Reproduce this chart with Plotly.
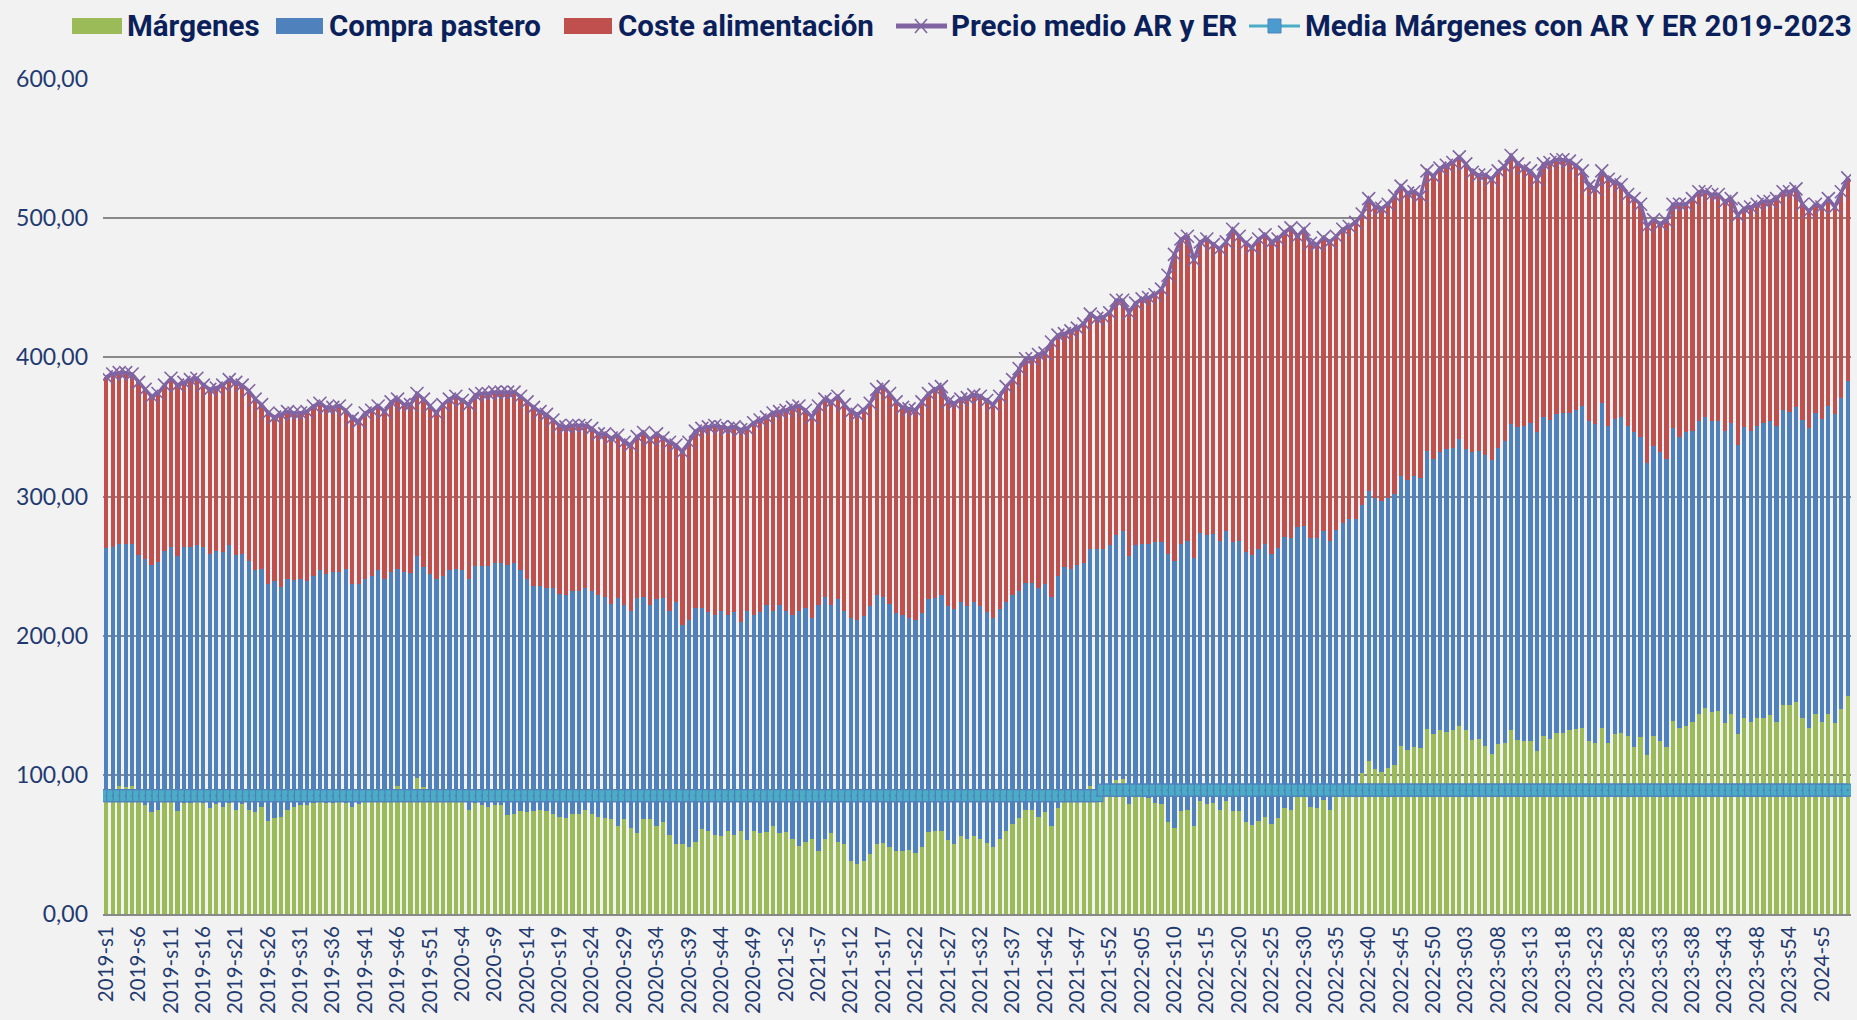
import plotly.graph_objects as go

# ---------------- categories (weekly) ----------------
semanas_2019 = [f"2019-s{i}" for i in range(1, 53)]
semanas_2020 = [f"2020-s{i}" for i in range(1, 53)]
semanas_2021 = [f"2021-s{i}" for i in range(1, 53)]
semanas_2022 = [f"2022-s{i:02d}" for i in range(1, 53)]
semanas_2023 = [f"2023-s{i:02d}" for i in range(1, 53)] + ["2023-s54"]
semanas_2024 = [f"2024-s{i}" for i in range(1, 10)]
categorias = semanas_2019 + semanas_2020 + semanas_2021 + semanas_2022 + semanas_2023 + semanas_2024

# ---------------- series values ----------------
margenes = [
    88, 89, 92, 91, 92, 82, 78, 73, 75, 81,
    82, 74, 80, 80, 81, 80, 76, 79, 77, 80,
    75, 79, 75, 73, 77, 67, 69, 70, 75, 77,
    78, 78, 80, 81, 80, 80, 81, 80, 77, 79,
    82, 83, 84, 82, 85, 92, 86, 85, 98, 91,
    84, 82, 83, 85, 86, 84, 75, 80, 78, 77,
    78, 78, 71, 72, 74, 73, 74, 75, 74, 72,
    70, 69, 72, 72, 75, 72, 70, 69, 68, 63,
    68, 62, 58, 68, 68, 63, 66, 57, 50, 50,
    48, 52, 61, 60, 57, 56, 60, 57, 60, 53,
    60, 58, 59, 63, 58, 59, 54, 49, 52, 54,
    45, 54, 58, 52, 50, 38, 36, 38, 43, 50,
    51, 48, 45, 45, 46, 44, 48, 59, 60, 60,
    53, 50, 56, 54, 56, 54, 51, 48, 54, 60,
    65, 69, 75, 75, 70, 73, 63, 76, 82, 84,
    85, 86, 92, 87, 88, 86, 96, 97, 79, 86,
    85, 83, 80, 79, 66, 62, 74, 75, 63, 81,
    79, 80, 75, 81, 74, 74, 66, 64, 67, 70,
    65, 69, 76, 75, 84, 85, 77, 76, 82, 75,
    85, 88, 88, 92, 101, 110, 104, 102, 105, 107,
    121, 118, 120, 119, 133, 129, 132, 131, 132, 135,
    132, 125, 126, 121, 115, 122, 123, 132, 125, 124,
    124, 117, 128, 126, 130, 130, 132, 133, 134, 124,
    123, 134, 123, 129, 130, 128, 120, 127, 114, 128,
    124, 120, 139, 134, 135, 138, 144, 148, 145, 146,
    137, 144, 129, 141, 138, 141, 141, 143, 138, 150,
    150, 152, 141, 134, 144, 138, 144, 137, 147, 157,
]

compra_pastero = [
    175, 175, 174, 175, 174, 176, 177, 178, 178, 180,
    182, 183, 184, 184, 184, 184, 183, 182, 183, 185,
    183, 180, 179, 174, 171, 170, 170, 165, 166, 163,
    163, 161, 163, 166, 164, 166, 165, 168, 160, 158,
    159, 160, 163, 159, 161, 156, 160, 160, 159, 158,
    160, 159, 160, 162, 162, 163, 166, 170, 172, 173,
    174, 174, 180, 180, 173, 168, 162, 161, 160, 162,
    160, 160, 160, 160, 159, 160, 159, 159, 155, 164,
    154, 156, 169, 160, 154, 163, 161, 161, 174, 158,
    163, 168, 159, 157, 158, 162, 155, 160, 150, 165,
    155, 159, 163, 155, 164, 159, 161, 169, 168, 159,
    177, 174, 164, 174, 168, 175, 175, 176, 178, 179,
    177, 175, 171, 170, 167, 167, 168, 167, 167, 169,
    168, 169, 168, 167, 168, 167, 166, 165, 165, 164,
    164, 163, 163, 163, 164, 164, 165, 167, 167, 164,
    166, 166, 170, 175, 174, 179, 176, 178, 178, 179,
    181, 183, 187, 188, 193, 192, 192, 193, 193, 193,
    193, 193, 193, 194, 193, 194, 194, 194, 195, 196,
    194, 194, 195, 195, 194, 194, 193, 194, 193, 193,
    191, 193, 196, 192, 193, 194, 195, 195, 194, 195,
    194, 194, 195, 194, 200, 198, 200, 203, 203, 206,
    202, 207, 207, 209, 211, 213, 217, 220, 225, 227,
    229, 229, 229, 229, 229, 230, 228, 229, 231, 230,
    229, 233, 228, 227, 227, 223, 226, 216, 210, 208,
    208, 207, 210, 209, 211, 209, 210, 209, 209, 208,
    210, 209, 208, 209, 209, 210, 212, 211, 213, 212,
    211, 212, 214, 215, 216, 218, 221, 222, 224, 226,
]

coste_alimentacion = [
    123, 124, 123, 123, 122, 124, 122, 121, 121, 119,
    121, 123, 118, 120, 120, 116, 118, 117, 120, 119,
    124, 121, 122, 123, 118, 123, 118, 124, 120, 120,
    119, 122, 122, 120, 120, 118, 119, 114, 119, 117,
    119, 119, 118, 120, 122, 122, 120, 121, 117, 121,
    121, 119, 123, 123, 124, 122, 125, 123, 124, 124,
    123, 123, 124, 123, 125, 127, 128, 125, 125, 121,
    121, 121, 119, 119, 117, 117, 116, 117, 119, 117,
    117, 119, 116, 118, 119, 119, 115, 121, 113, 124,
    128, 127, 129, 133, 136, 132, 134, 133, 138, 131,
    138, 138, 135, 142, 139, 144, 149, 147, 142, 144,
    143, 142, 146, 146, 148, 148, 148, 148, 146, 148,
    151, 151, 152, 149, 150, 151, 152, 148, 150, 150,
    147, 148, 146, 150, 149, 151, 152, 153, 153, 155,
    155, 160, 161, 161, 168, 166, 183, 173, 168, 171,
    170, 172, 169, 166, 167, 167, 169, 166, 175, 174,
    176, 177, 178, 182, 200, 220, 219, 219, 214, 209,
    213, 208, 210, 208, 225, 219, 222, 221, 223, 222,
    224, 222, 219, 223, 209, 213, 212, 211, 211, 215,
    211, 211, 210, 213, 209, 210, 209, 210, 211, 214,
    208, 206, 204, 203, 201, 203, 204, 204, 205, 203,
    205, 201, 198, 201, 202, 199, 197, 193, 189, 185,
    181, 182, 182, 185, 183, 182, 181, 176, 169, 169,
    169, 167, 177, 170, 167, 166, 168, 167, 170, 163,
    164, 171, 161, 167, 164, 167, 165, 162, 163, 163,
    165, 161, 165, 157, 161, 159, 159, 158, 163, 157,
    158, 157, 155, 156, 150, 152, 149, 149, 148, 146,
]

precio_medio = [
    386, 388, 389, 389, 388, 382, 377, 372, 374, 380,
    385, 380, 382, 384, 385, 380, 377, 378, 380, 384,
    382, 380, 376, 370, 366, 360, 357, 359, 361, 360,
    360, 361, 365, 367, 364, 364, 365, 362, 356, 354,
    360, 362, 365, 361, 368, 370, 366, 366, 374, 370,
    365, 360, 366, 370, 372, 369, 366, 373, 374, 374,
    375, 375, 375, 375, 372, 368, 364, 361, 359, 355,
    351, 350, 351, 351, 351, 349, 345, 345, 342, 344,
    339, 337, 343, 346, 341, 345, 342, 339, 337, 332,
    339, 347, 349, 350, 351, 350, 349, 350, 348, 349,
    353, 355, 357, 360, 361, 362, 364, 365, 362, 357,
    365, 370, 368, 372, 366, 361, 359, 362, 367, 377,
    379, 374, 368, 364, 363, 362, 368, 374, 377, 379,
    368, 367, 370, 371, 373, 372, 369, 366, 372, 379,
    384, 392, 399, 399, 402, 403, 411, 416, 417, 419,
    421, 424, 431, 428, 429, 432, 441, 441, 432, 439,
    442, 443, 445, 449, 459, 474, 485, 487, 470, 483,
    485, 481, 478, 483, 492, 487, 482, 479, 485, 488,
    483, 485, 490, 493, 487, 492, 482, 481, 486, 483,
    487, 492, 494, 497, 503, 514, 508, 507, 510, 516,
    523, 518, 519, 516, 534, 530, 536, 538, 540, 544,
    539, 533, 531, 531, 528, 534, 537, 545, 539, 536,
    534, 528, 539, 540, 542, 542, 541, 538, 534, 523,
    521, 534, 528, 526, 524, 517, 514, 510, 494, 499,
    496, 498, 510, 510, 510, 514, 519, 519, 517, 517,
    512, 514, 502, 507, 508, 510, 512, 512, 514, 519,
    519, 521, 510, 505, 510, 508, 514, 508, 519, 529,
]

media_margenes = [85.0] * 154 + [89.0] * 116

etiquetas_eje_x = categorias[::5]

# ---------------- colours ----------------
VERDE = "#9BBB59"
AZUL = "#4F81BD"
ROJO = "#C0504D"
MORADO = "#8064A2"
TURQUESA = "#4BACC6"
FONDO = "#F2F2F2"
REJILLA = "#898989"
NAVY = "#0B1F5B"
TICK = "#1F3A70"

fig = go.Figure()
fig.add_trace(go.Bar(x=categorias, y=margenes, name="Márgenes",
                     marker=dict(color=VERDE, line=dict(width=0))))
fig.add_trace(go.Bar(x=categorias, y=compra_pastero, name="Compra pastero",
                     marker=dict(color=AZUL, line=dict(width=0))))
fig.add_trace(go.Bar(x=categorias, y=coste_alimentacion, name="Coste alimentación",
                     marker=dict(color=ROJO, line=dict(width=0))))
fig.add_trace(go.Scatter(x=categorias, y=precio_medio, name="Precio medio AR y ER",
                         mode="lines+markers",
                         line=dict(color=MORADO, width=3.5),
                         marker=dict(symbol="x-thin", size=13,
                                     line=dict(color=MORADO, width=1.6))))
fig.add_trace(go.Scatter(x=categorias, y=media_margenes,
                         name="Media Márgenes con AR Y ER 2019-2023",
                         mode="lines+markers",
                         line=dict(color=TURQUESA, width=6),
                         marker=dict(symbol="square-dot", size=12, color=TURQUESA,
                                     line=dict(color="#4F81BD", width=1.2))))

# ---------------- layout ----------------
W, H = 1857, 1020
L, R, T, B = 103, 6, 79, 106
PW, PH = W - L - R, H - T - B


def px_x(px):
    return (px - L) / PW


def px_y(py):
    return (H - B - py) / PH


fig.update_layout(
    width=W, height=H,
    margin=dict(l=L, r=R, t=T, b=B, pad=0, autoexpand=False),
    barmode="stack", bargap=0.34,
    plot_bgcolor=FONDO, paper_bgcolor=FONDO,
    separators=",.",
    showlegend=False,
    font=dict(family="Lato", color=TICK),
)
fig.update_yaxes(range=[0, 600], dtick=100, tickformat=".2f",
                 showgrid=True, gridcolor=REJILLA, gridwidth=2,
                 zeroline=False, showline=False, ticks="",
                 tickfont=dict(family="Lato", size=23, color=TICK),
                 ticklabelstandoff=14, automargin=False)
fig.update_xaxes(type="category", tickmode="array",
                 range=[-0.5, len(categorias) - 0.5], autorange=False,
                 tickvals=etiquetas_eje_x, ticktext=etiquetas_eje_x,
                 tickangle=-90, showgrid=False, showline=True,
                 linecolor=REJILLA, linewidth=2, ticks="",
                 tickfont=dict(family="Lato", size=20.5, color=TICK),
                 ticklabelstandoff=2, automargin=False)

# ---------------- manual legend ----------------
ly = 26
shapes = []
annotations = []
leg_font = dict(family="Roboto", size=29.5, color=NAVY, weight="bold")

rects = [(72, 122, VERDE, 125, "Márgenes"),
         (276, 323, AZUL, 327, "Compra pastero"),
         (564, 612, ROJO, 616, "Coste alimentación")]
for x0, x1, col, tx, label in rects:
    shapes.append(dict(type="rect", xref="paper", yref="paper",
                       x0=px_x(x0), x1=px_x(x1), y0=px_y(ly + 8), y1=px_y(ly - 8),
                       fillcolor=col, line=dict(width=0), layer="above"))
    annotations.append(dict(text=label, xref="paper", yref="paper",
                            x=px_x(tx), y=px_y(ly), xanchor="left", yanchor="middle",
                            showarrow=False, font=leg_font))

# precio line entry
shapes.append(dict(type="line", xref="paper", yref="paper",
                   x0=px_x(896), x1=px_x(947), y0=px_y(ly), y1=px_y(ly),
                   line=dict(color=MORADO, width=5)))
for dx0, dy0, dx1, dy1 in [(-6, -7, 6, 7), (-6, 7, 6, -7)]:
    shapes.append(dict(type="line", xref="paper", yref="paper",
                       x0=px_x(921 + dx0), x1=px_x(921 + dx1),
                       y0=px_y(ly + dy0), y1=px_y(ly + dy1),
                       line=dict(color=MORADO, width=1.6)))
annotations.append(dict(text="Precio medio AR y ER", xref="paper", yref="paper",
                        x=px_x(949), y=px_y(ly), xanchor="left", yanchor="middle",
                        showarrow=False, font=leg_font))

# media line entry
shapes.append(dict(type="line", xref="paper", yref="paper",
                   x0=px_x(1249), x1=px_x(1300), y0=px_y(ly), y1=px_y(ly),
                   line=dict(color=TURQUESA, width=3)))
shapes.append(dict(type="rect", xref="paper", yref="paper",
                   x0=px_x(1268), x1=px_x(1281), y0=px_y(ly + 7), y1=px_y(ly - 7),
                   fillcolor="#4A9BD0", line=dict(color="#4F81BD", width=1)))
annotations.append(dict(text="Media Márgenes con AR Y ER 2019-2023", xref="paper", yref="paper",
                        x=px_x(1303), y=px_y(ly), xanchor="left", yanchor="middle",
                        showarrow=False, font=leg_font))

fig.update_layout(shapes=shapes, annotations=annotations)

fig.write_html("out.html", config={"displayModeBar": False},
               post_script="document.body.style.margin='0px';")
